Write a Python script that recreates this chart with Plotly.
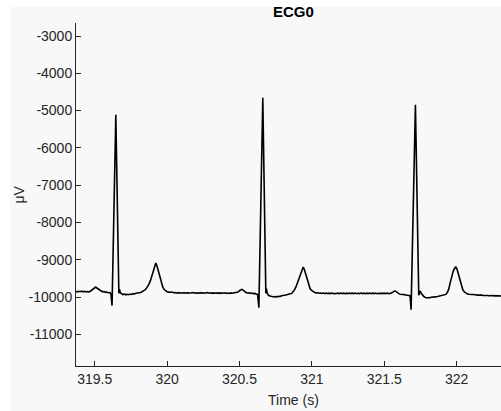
import plotly.graph_objects as go

# ---- data ----
time_s = [
    319.370, 319.380, 319.390, 319.400, 319.410, 319.420, 319.430, 319.440, 319.450, 319.460,
    319.470, 319.480, 319.490, 319.500, 319.507, 319.515, 319.525, 319.535, 319.545, 319.555,
    319.565, 319.575, 319.585, 319.595, 319.605, 319.612, 319.620, 319.646, 319.667, 319.671,
    319.677, 319.685, 319.695, 319.705, 319.715, 319.725, 319.735, 319.745, 319.755, 319.765,
    319.775, 319.785, 319.795, 319.805, 319.815, 319.825, 319.835, 319.845, 319.855, 319.865,
    319.875, 319.885, 319.895, 319.905, 319.913, 319.922, 319.930, 319.940, 319.950, 319.960,
    319.970, 319.980, 319.990, 320.000, 320.010, 320.020, 320.030, 320.040, 320.050, 320.060,
    320.070, 320.080, 320.090, 320.100, 320.110, 320.120, 320.130, 320.140, 320.150, 320.160,
    320.170, 320.180, 320.190, 320.200, 320.210, 320.220, 320.230, 320.240, 320.250, 320.260,
    320.270, 320.280, 320.290, 320.300, 320.310, 320.320, 320.330, 320.340, 320.350, 320.360,
    320.370, 320.380, 320.390, 320.400, 320.410, 320.420, 320.430, 320.440, 320.450, 320.460,
    320.470, 320.480, 320.490, 320.500, 320.508, 320.516, 320.525, 320.535, 320.545, 320.555,
    320.565, 320.575, 320.585, 320.595, 320.605, 320.615, 320.625, 320.634, 320.661, 320.682,
    320.686, 320.692, 320.700, 320.710, 320.720, 320.730, 320.740, 320.750, 320.760, 320.770,
    320.780, 320.790, 320.800, 320.810, 320.820, 320.830, 320.840, 320.850, 320.860, 320.870,
    320.880, 320.890, 320.900, 320.910, 320.920, 320.930, 320.940, 320.948, 320.958, 320.968,
    320.978, 320.988, 320.998, 321.010, 321.020, 321.030, 321.040, 321.050, 321.060, 321.070,
    321.080, 321.090, 321.100, 321.110, 321.120, 321.130, 321.140, 321.150, 321.160, 321.170,
    321.180, 321.190, 321.200, 321.210, 321.220, 321.230, 321.240, 321.250, 321.260, 321.270,
    321.280, 321.290, 321.300, 321.310, 321.320, 321.330, 321.340, 321.350, 321.360, 321.370,
    321.380, 321.390, 321.400, 321.410, 321.420, 321.430, 321.440, 321.450, 321.460, 321.470,
    321.480, 321.490, 321.500, 321.510, 321.520, 321.530, 321.540, 321.550, 321.560, 321.568,
    321.575, 321.583, 321.592, 321.600, 321.610, 321.620, 321.630, 321.640, 321.650, 321.660,
    321.670, 321.678, 321.685, 321.715, 321.738, 321.748, 321.755, 321.765, 321.775, 321.785,
    321.795, 321.805, 321.815, 321.825, 321.835, 321.845, 321.855, 321.865, 321.875, 321.885,
    321.895, 321.905, 321.915, 321.925, 321.935, 321.945, 321.955, 321.965, 321.975, 321.985,
    321.994, 322.002, 322.012, 322.022, 322.032, 322.042, 322.052, 322.062, 322.072, 322.082,
    322.092, 322.102, 322.112, 322.122, 322.132, 322.142, 322.152, 322.162, 322.172, 322.182,
    322.192, 322.202, 322.212, 322.222, 322.232, 322.242, 322.252, 322.262, 322.272, 322.282,
    322.292, 322.302, 322.312,
]

ecg_uv = [
    -9850, -9860, -9845, -9858, -9842, -9860, -9848, -9865, -9852, -9862,
    -9845, -9810, -9775, -9748, -9732, -9758, -9785, -9818, -9842, -9862,
    -9852, -9875, -9866, -9888, -9880, -9912, -10230, -5115, -9900, -9790,
    -9885, -9915, -9935, -9922, -9940, -9926, -9938, -9922, -9930, -9910,
    -9918, -9900, -9902, -9885, -9885, -9865, -9845, -9815, -9780, -9725,
    -9655, -9560, -9430, -9290, -9160, -9090, -9160, -9320, -9480, -9620,
    -9730, -9800, -9835, -9858, -9870, -9866, -9882, -9874, -9890, -9880,
    -9896, -9884, -9893, -9888, -9900, -9885, -9897, -9883, -9899, -9886,
    -9893, -9881, -9898, -9887, -9901, -9886, -9895, -9884, -9900, -9887,
    -9893, -9882, -9897, -9888, -9902, -9889, -9898, -9885, -9901, -9890,
    -9900, -9886, -9897, -9885, -9901, -9891, -9903, -9889, -9900, -9892,
    -9898, -9884, -9865, -9830, -9805, -9795, -9815, -9850, -9880, -9893,
    -9886, -9902, -9894, -9910, -9903, -9920, -9930, -10285, -4657, -9900,
    -9775, -9900, -9955, -9972, -9986, -9980, -9998, -9988, -9996, -9982,
    -9986, -9968, -9970, -9952, -9945, -9928, -9920, -9912, -9905, -9870,
    -9810, -9730, -9620, -9490, -9360, -9250, -9196, -9260, -9400, -9560,
    -9690, -9780, -9825, -9860, -9880, -9892, -9885, -9900, -9891, -9906,
    -9894, -9908, -9895, -9909, -9897, -9907, -9894, -9910, -9898, -9907,
    -9896, -9909, -9894, -9908, -9897, -9910, -9896, -9907, -9895, -9909,
    -9897, -9907, -9895, -9910, -9898, -9907, -9894, -9909, -9897, -9910,
    -9896, -9908, -9894, -9909, -9897, -9907, -9895, -9910, -9898, -9908,
    -9896, -9909, -9897, -9907, -9894, -9910, -9904, -9895, -9870, -9845,
    -9838, -9855, -9890, -9910, -9926, -9924, -9936, -9936, -9946, -9946,
    -9956, -9965, -10338, -4846, -9950, -9840, -9900, -9960, -9993, -10010,
    -10024, -10014, -10020, -10004, -10010, -9996, -10000, -9988, -9988, -9978,
    -9966, -9952, -9940, -9930, -9880, -9790, -9620, -9450, -9320, -9230,
    -9196, -9250, -9400, -9560, -9700, -9800, -9860, -9895, -9915, -9926,
    -9926, -9934, -9932, -9942, -9938, -9948, -9944, -9954, -9950, -9958,
    -9954, -9962, -9958, -9965, -9960, -9967, -9962, -9969, -9964, -9971,
    -9966, -9973, -9968,
]

x_tick_vals = [319.5, 320, 320.5, 321, 321.5, 322]
x_tick_text = ["319.5", "320", "320.5", "321", "321.5", "322"]
y_tick_vals = [-3000, -4000, -5000, -6000, -7000, -8000, -9000, -10000, -11000]
y_tick_text = ["-3000", "-4000", "-5000", "-6000", "-7000", "-8000", "-9000", "-10000", "-11000"]

title_text = "ECG0"
x_label = "Time (s)"
y_label = "\u03bcV"

# ---- figure ----
W, H = 501, 411
ML, MR, MT, MB = 76, 0, 23, 45
PW, PH = W - ML - MR, H - MT - MB
FONT = "Liberation Sans, Arial, Helvetica, sans-serif"
INK = "#262626"
BG = "#f8f8f8"

fig = go.Figure()
fig.add_trace(go.Scatter(
    x=time_s, y=ecg_uv, mode="lines",
    line=dict(color="black", width=1.6),
    showlegend=False, hoverinfo="skip",
))

axis_common = dict(
    tickmode="array",
    ticks="inside", ticklen=5, tickwidth=1, tickcolor=INK,
    showline=True, linecolor=INK, linewidth=1,
    showgrid=False, zeroline=False,
    tickfont=dict(family=FONT, size=14, color=INK),
)

fig.update_layout(
    width=W, height=H,
    margin=dict(l=ML, r=MR, t=MT, b=MB, pad=0),
    paper_bgcolor="white",
    plot_bgcolor="rgba(0,0,0,0)",
    font=dict(family=FONT, size=14, color=INK),
    showlegend=False,
    xaxis=dict(range=[319.371, 322.306], tickvals=x_tick_vals, ticktext=x_tick_text,
               **axis_common),
    yaxis=dict(range=[-11850, -2651], tickvals=y_tick_vals, ticktext=y_tick_text,
               **axis_common),
    shapes=[dict(
        type="rect", xref="paper", yref="paper", layer="below",
        x0=(10 - ML) / PW, x1=1.02,
        y0=-(MB + 2) / PH, y1=1 + (MT - 7) / PH,
        fillcolor=BG, line=dict(width=0),
    )],
    annotations=[
        dict(text="<b>" + title_text + "</b>", xref="paper", yref="paper",
             x=(293 - ML) / PW, y=1 + (MT - 20) / PH,
             xanchor="center", yanchor="bottom", yshift=-2, showarrow=False,
             font=dict(family=FONT, size=15, color="black")),
        dict(text=x_label, xref="paper", yref="paper",
             x=(293 - ML) / PW, y=-(406 - MT - PH) / PH,
             xanchor="center", yanchor="bottom", yshift=-4, showarrow=False,
             font=dict(family=FONT, size=14, color=INK)),
        dict(text=y_label, xref="paper", yref="paper",
             x=(18 - ML) / PW, y=0.5, textangle=-90,
             xanchor="center", yanchor="middle", showarrow=False,
             font=dict(family=FONT, size=14, color=INK)),
    ],
)

fig.write_html("out.html")
